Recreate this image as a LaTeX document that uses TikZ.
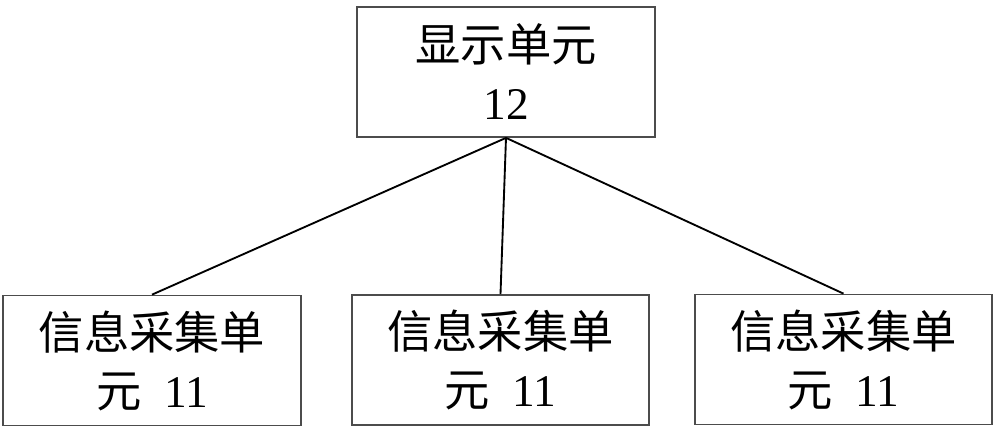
\documentclass[tikz,border=0pt]{standalone}
\usepackage{fontspec}
\setmainfont{Liberation Serif}
\newfontfamily\cjk{Noto Sans CJK SC}
\begin{document}
\begin{tikzpicture}[x=0.75pt,y=-0.75pt,
  unitbox/.style={draw=black!70,line width=1.3pt,minimum width=223pt,minimum height=97.5pt,inner sep=0pt,align=center,
    font=\fontsize{34pt}{43.5pt}\selectfont},
  link/.style={line width=1.4pt,black}]
\useasboundingbox (0,0) rectangle (1000,433);
\node[unitbox] (top) at (506,72) {{\cjk 显示单元}\\12};
\node[unitbox] (l) at (152,360.5) {{\cjk 信息采集单}\\{\cjk 元}\ \ 11};
\node[unitbox] (m) at (500.5,360) {{\cjk 信息采集单}\\{\cjk 元}\ \ 11};
\node[unitbox] (r) at (843.5,359.5) {{\cjk 信息采集单}\\{\cjk 元}\ \ 11};
\draw[link] (top.south) -- (l.north);
\draw[link] (top.south) -- (m.north);
\draw[link] (top.south) -- (r.north);
\end{tikzpicture}
\end{document}
